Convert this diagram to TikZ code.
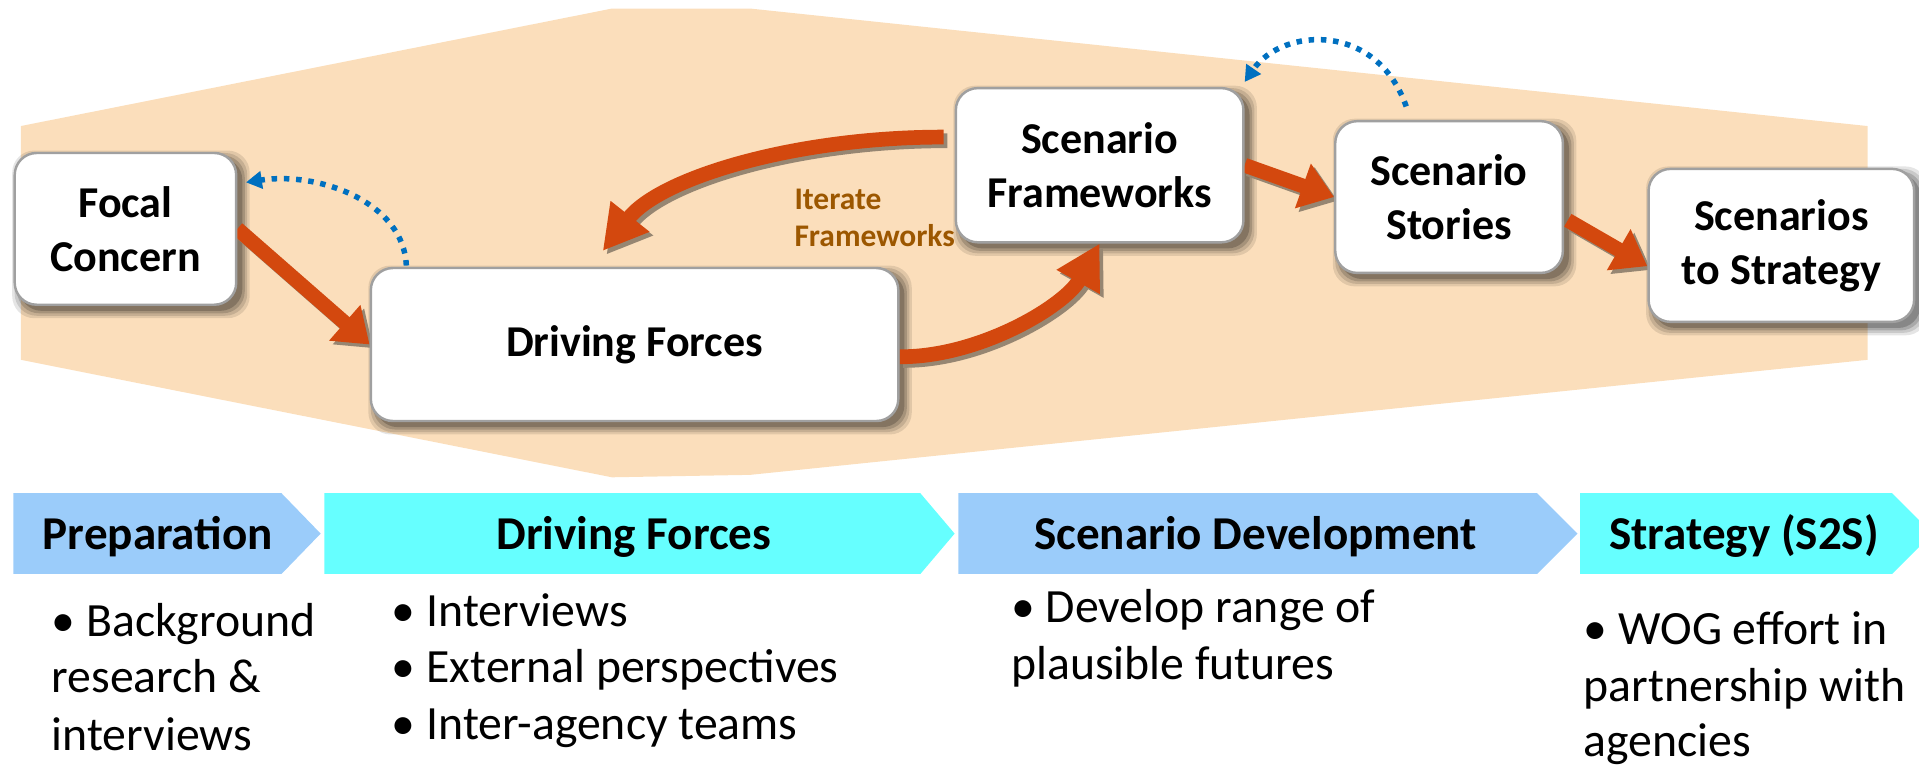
\documentclass[tikz,border=0pt]{standalone}
\usepackage{fontspec}
\setmainfont{Carlito}
\usetikzlibrary{arrows.meta,calc}
\definecolor{bandpeach}{RGB}{251,222,187}
\definecolor{redarr}{RGB}{211,72,14}
\definecolor{arrshadow}{RGB}{150,134,114}
\definecolor{bluedot}{RGB}{0,112,192}
\definecolor{chevblue}{RGB}{155,204,250}
\definecolor{chevcyan}{RGB}{102,255,255}
\definecolor{boxborder}{RGB}{160,160,160}
\definecolor{brownlbl}{RGB}{156,87,0}
\pgfdeclarelayer{bg}
\pgfdeclarelayer{shad}
\pgfdeclarelayer{mid}
\pgfsetlayers{bg,shad,mid,main}
\newcommand\mkshadow[1]{%
  \begin{pgfonlayer}{shad}
  \foreach \e/\op in {5/0.10,3/0.12,1/0.16,-1/0.2}{%
    \fill[black, opacity=\op, rounded corners=18pt]
      ($(#1.north west)+(4-\e,4-\e)$) rectangle ($(#1.south east)+(5+\e,5+\e)$);}
  \end{pgfonlayer}}
\begin{document}
\begin{tikzpicture}[x=1pt,y=-1pt,
  stagebox/.style={draw=boxborder, line width=2pt, fill=white, rounded corners=18pt,
    align=center, inner sep=0pt, font=\fontsize{36}{44}\selectfont\bfseries},
  hdr/.style={anchor=base, inner sep=0pt, font=\fontsize{38.5}{46}\selectfont\bfseries},
  bul/.style={anchor=base west, inner sep=0pt, font=\fontsize{39}{46}\selectfont},
  redstraight/.style={draw=redarr, line width=12pt, -{Triangle[length=27pt,width=37pt]}},
  redcurve/.style={draw=redarr, line width=12pt, -{Triangle[length=36pt,width=38pt]}},
  shadowstraight/.style={draw=arrshadow, line width=12pt, -{Triangle[length=27pt,width=37pt]},
    transform canvas={xshift=3pt, yshift=-3pt}},
  shadowcurve/.style={draw=arrshadow, line width=12pt, -{Triangle[length=36pt,width=38pt]},
    transform canvas={xshift=3pt, yshift=-3pt}},
  bluedotted/.style={draw=bluedot, line width=4.5pt, dash pattern=on 4.5pt off 5.5pt,
    -{Triangle[length=13pt,width=14pt]}}
]
\useasboundingbox (0,0) rectangle (1568,628);

% background band
\begin{pgfonlayer}{bg}
\fill[bandpeach] (17,103) -- (500,7) -- (613,7) -- (1526,103) -- (1526,294) -- (613,388) -- (500,390) -- (17,294) -- cycle;
\end{pgfonlayer}

% boxes
\node[stagebox, minimum width=181pt, minimum height=124pt] (focal) at (102.5,187) {Focal\\Concern};
\node[stagebox, minimum width=431pt, minimum height=125pt] (driving) at (518.5,281.5) {Driving Forces};
\node[stagebox, minimum width=235pt, minimum height=126pt] (sf) at (898.5,135) {Scenario\\Frameworks};
\node[stagebox, minimum width=186pt, minimum height=124pt] (ss) at (1184,161) {Scenario\\Stories};
\node[stagebox, minimum width=217pt, minimum height=125pt] (sts) at (1455.5,200.5) {Scenarios\\to Strategy};
\mkshadow{focal}
\mkshadow{driving}
\mkshadow{sf}
\mkshadow{ss}
\mkshadow{sts}

\node[anchor=west, inner sep=0pt, align=left, text=brownlbl, font=\fontsize{25.7}{30}\selectfont\bfseries] (iter) at (649,178) {Iterate\\Frameworks};

% red arrows
\begin{pgfonlayer}{mid}
\draw[shadowstraight] (focal.east) -- (driving.west);
\draw[redstraight] (focal.east) -- (driving.west);
\draw[shadowcurve] ($(sf.west)+(-9,-23)$) .. controls (650,112) and (540,145) .. ($(driving.north)+(-26,-13)$);
\draw[redcurve] ($(sf.west)+(-9,-23)$) .. controls (650,112) and (540,145) .. ($(driving.north)+(-26,-13)$);
\draw[shadowcurve] ($(driving.east)+(0,10)$) .. controls (800,292) and (870,250) .. (sf.south);
\draw[redcurve] ($(driving.east)+(0,10)$) .. controls (800,292) and (870,250) .. (sf.south);
\draw[shadowstraight] (sf.east) -- (ss.west);
\draw[redstraight] (sf.east) -- (ss.west);
\draw[shadowstraight] ($(ss.east)+(3,19)$) -- ($(sts.west)+(0,17)$);
\draw[redstraight] ($(ss.east)+(3,19)$) -- ($(sts.west)+(0,17)$);
\end{pgfonlayer}

% blue dotted feedback arrows
\draw[bluedotted] ($(driving.north west)+(30,-1)$) .. controls (330,165) and (260,140) .. ($(focal.north east)+(7,25)$);
\draw[bluedotted] ($(ss.north)+(-35,-11)$) .. controls (1125,18) and (1048,22) .. ($(sf.north east)+(0,-4)$);

% phase chevrons
\fill[chevblue] (11,403) -- (230,403) -- (262,436) -- (230,469) -- (11,469) -- cycle;
\fill[chevcyan] (265,403) -- (752,403) -- (780,436) -- (752,469) -- (265,469) -- cycle;
\fill[chevblue] (783,403) -- (1256,403) -- (1289,436) -- (1256,469) -- (783,469) -- cycle;
\fill[chevcyan] (1291,403) -- (1546,403) -- (1579,436) -- (1546,469) -- (1291,469) -- cycle;
\node[hdr] (hprep) at (129,449) {Preparation};
\node[hdr] (hdrv) at (518,449) {Driving Forces};
\node[hdr] (hsd) at (1026,449) {Scenario Development};
\node[hdr] (hst) at (1425,449) {Strategy (S2S)};

% bullet texts
\node[bul] (p1) at (42,520) {• Background};
\node[bul] (p2) at (42,566) {research \&};
\node[bul] (p3) at (42,613) {interviews};
\node[bul] (d1) at (320,512) {• Interviews};
\node[bul] (d2) at (320,558) {• External perspectives};
\node[bul] (d3) at (320,604) {• Inter-agency teams};
\node[bul] (s1) at (826,509) {• Develop range of};
\node[bul] (s2) at (826,555) {plausible futures};
\node[bul] (t1) at (1294,527) {• WOG effort in};
\node[bul] (t2) at (1294,573) {partnership with};
\node[bul] (t3) at (1294,618) {agencies};
\end{tikzpicture}
\end{document}
